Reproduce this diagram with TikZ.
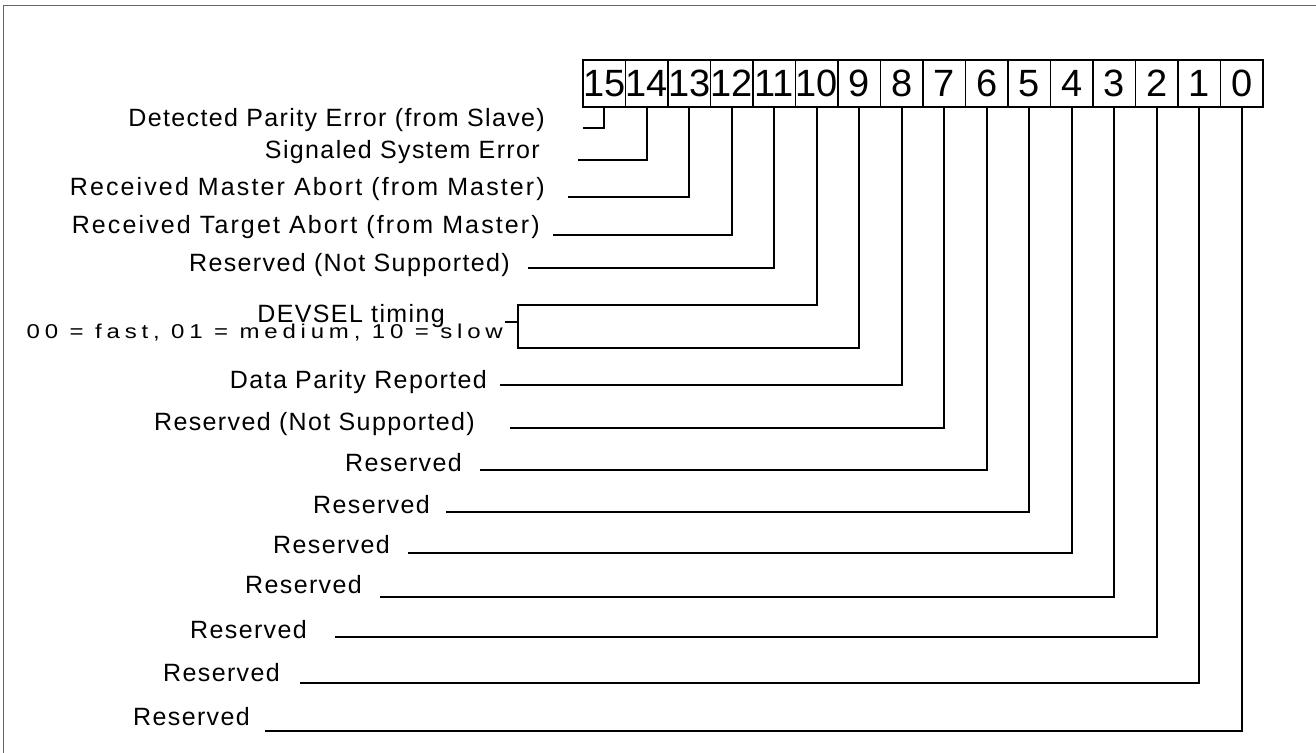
\documentclass[tikz,border=0pt]{standalone}
\usepackage{fontspec}
\setmainfont{Liberation Sans}
\newfontfamily\lblfont{Liberation Sans}[LetterSpace=5.5]
\newfontfamily\lblwide{Liberation Sans}[LetterSpace=8.5]
\newfontfamily\smlfont{Liberation Sans}[LetterSpace=20]
\begin{document}
\begin{tikzpicture}[x=1pt,y=-1pt,
  bitbox/.style={draw=black,line width=1.6pt,minimum width=42.5pt,minimum height=47pt,inner sep=0pt,
    font=\fontsize{38}{38}\selectfont},
  lbl/.style={anchor=base east,inner sep=0pt,font=\lblfont\fontsize{25}{25}\selectfont},
  lblw/.style={lbl,font=\lblwide\fontsize{25}{25}\selectfont},
  sml/.style={anchor=base east,inner sep=0pt,font=\smlfont\fontsize{20}{20}\selectfont},
  conn/.style={draw=black,line width=2pt},
  frame/.style={draw=black!60,line width=1pt}]
\useasboundingbox (0,0) rectangle (1316,752);
\draw[frame] (3,760) -- (3,5.5) -- (1320,5.5);
% bit boxes
\foreach \b in {0,...,15}
  \node[bitbox] (b\b) at ({604.25+(15-\b)*42.5},83.5) {\b};
% labels and connectors
\node[lbl] (l15) at (545,126) {Detected Parity Error (from Slave)};
\coordinate (s15) at (583,128);
\node[lbl] (l14) at (540,158) {Signaled System Error};
\coordinate (s14) at (578,160);
\node[lblw] (l13) at (545,195) {Received Master Abort (from Master)};
\coordinate (s13) at (568,197);
\node[lblw] (l12) at (540,233) {Received Target Abort (from Master)};
\coordinate (s12) at (553,235);
\node[lbl] (l11) at (510,271) {Reserved (Not Supported)};
\coordinate (s11) at (528,268);
\node[lbl] (l8) at (487,388) {Data Parity Reported};
\coordinate (s8) at (500,385);
\node[lbl] (l7) at (475,430) {Reserved (Not Supported)};
\coordinate (s7) at (510,428);
\node[lbl] (l6) at (462,471) {Reserved};
\coordinate (s6) at (480,470);
\node[lbl] (l5) at (430,513) {Reserved};
\coordinate (s5) at (446,512);
\node[lbl] (l4) at (390,553) {Reserved};
\coordinate (s4) at (408,553);
\node[lbl] (l3) at (362,593) {Reserved};
\coordinate (s3) at (380,597);
\node[lbl] (l2) at (307,638) {Reserved};
\coordinate (s2) at (335,637);
\node[lbl] (l1) at (280,681) {Reserved};
\coordinate (s1) at (300,683);
\node[lbl] (l0) at (250,725) {Reserved};
\coordinate (s0) at (265,731);
\foreach \b in {15,14,13,12,11,8,7,6,5,4,3,2,1,0}
  \draw[conn] (s\b) -| (b\b.south);
% DEVSEL timing
\node[lbl] (ldev) at (445,322) {DEVSEL timing};
\node[sml] (lenc) at (503,338) {\scalebox{1.2}[1]{00 = fast, 01 = medium, 10 = slow}};
\coordinate (dstub) at (505,322);
\coordinate (dmid) at (518,322);
\coordinate (dtop) at (518,305);
\coordinate (dbot) at (518,348);
\draw[conn] (dstub) -- (dmid);
\draw[conn] (b10.south) |- (dtop) -- (dbot) -| (b9.south);
\end{tikzpicture}
\end{document}
